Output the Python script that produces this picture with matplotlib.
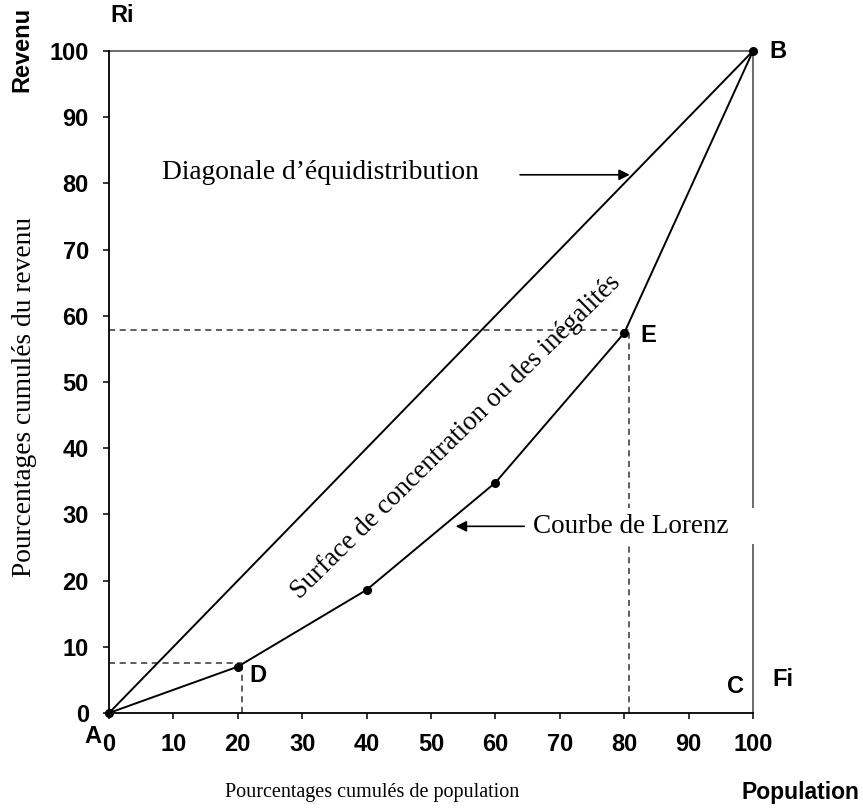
import matplotlib
matplotlib.use("Agg")
import matplotlib.pyplot as plt

# Data
population = [0, 20, 40, 60, 80, 100]
revenu = [0, 7.0, 18.6, 34.8, 57.4, 100]
diag_x = [0, 100]
diag_y = [0, 100]
guide_x = [20.6, 80.7]
guide_y = [7.6, 57.8]
ticks = [0, 10, 20, 30, 40, 50, 60, 70, 80, 90, 100]

SERIF = "Liberation Serif"
SANS = "Liberation Sans"

fig = plt.figure(figsize=(8.63, 8.09), dpi=100)
ax = fig.add_axes([109/863, 1-713/809, (753-109)/863, (713-51)/809])
ax.set_xlim(0, 100)
ax.set_ylim(0, 100)

# frame lines
ax.spines['top'].set_visible(False)
ax.spines['right'].set_visible(False)
for s in ('left', 'bottom'):
    ax.spines[s].set_linewidth(1.3)
ax.axhline(100, color='#444444', lw=1.1, zorder=1, clip_on=False)
ax.axvline(100, color='#444444', lw=1.1, zorder=1, clip_on=False)

# diagonal
ax.plot(diag_x, diag_y, color='black', lw=1.4, zorder=2, clip_on=False)
# Lorenz curve
ax.plot(population, revenu, color='black', lw=1.4, marker='o', ms=5.5, zorder=2, clip_on=False)

# dashed guides
for gx, gy in zip(guide_x, guide_y):
    ax.plot([0, gx], [gy, gy], color='#333333', lw=1.1, ls=(0, (4, 3)), zorder=1.5)
    ax.plot([gx, gx], [0, gy], color='#333333', lw=1.1, ls=(0, (4, 3)), zorder=1.5)

ax.set_xticks(ticks)
ax.set_yticks(ticks)
ax.set_xticklabels([str(t) for t in ticks], fontfamily=SANS, fontweight='bold', fontsize=17)
ax.set_yticklabels([str(t) for t in ticks], fontfamily=SANS, fontweight='bold', fontsize=17)
ax.tick_params(direction='out', length=4.5, width=1.1, pad=10)

# point letters
lab = dict(fontfamily=SANS, fontsize=17, fontweight='bold', color='black')
ax.text(102.6, 100, "B", ha='left', va='center', clip_on=False, **lab)
ax.text(97.3, 4, "C", ha='center', va='center', clip_on=False, **lab)
ax.text(21.8, 5.7, "D", ha='left', va='center', clip_on=False, **lab)
ax.text(82.5, 57.0, "E", ha='left', va='center', clip_on=False, **lab)
ax.text(-2.5, -3.6, "A", ha='center', va='center', clip_on=False, **lab)
ax.text(103, 5, "Fi", ha='left', va='center', clip_on=False, **lab)
ax.text(2, 105.3, "Ri", ha='center', va='center', clip_on=False, **lab)

fig.text(22/863, 1-92/809, "Revenu", rotation=90, ha='center', va='bottom',
         fontfamily=SANS, fontsize=17, fontweight='bold')
fig.text(859/863, 1-793/809, "Population", ha='right', va='center',
         fontfamily=SANS, fontsize=16.5, fontweight='bold')

# axis titles
fig.text(372/863, 1-793/809, "Pourcentages cumulés de population", ha='center', va='center',
         fontfamily=SERIF, fontsize=14.5)
fig.text(25/863, 1-397/809, "Pourcentages cumulés du revenu", rotation=90, ha='center', va='center',
         fontfamily=SERIF, fontsize=19.7)

# annotations
ax.text(32.9, 81.7, "Diagonale d\u2019équidistribution", ha='center', va='center',
        fontfamily=SERIF, fontsize=19.8, zorder=5)
ax.annotate("", xy=(81.3, 81.3), xytext=(63.4, 81.3),
            arrowprops=dict(arrowstyle='-|>', color='black', lw=1.2, mutation_scale=16))

ax.text(65.8, 28.2, "Courbe de Lorenz   ", ha='left', va='center',
        fontfamily=SERIF, fontsize=19.5, zorder=5,
        bbox=dict(boxstyle='square,pad=0.2', fc='white', ec='none'))
ax.annotate("", xy=(53.4, 28.2), xytext=(64.9, 28.2),
            arrowprops=dict(arrowstyle='-|>', color='black', lw=1.2, mutation_scale=16), zorder=6)

ax.text(53.9, 41.7, "Surface de concentration ou des inégalités", rotation=44.5,
        rotation_mode='anchor', ha='center', va='center',
        fontfamily=SERIF, fontsize=19.3, zorder=5)

fig.savefig("out.png", dpi=100)
